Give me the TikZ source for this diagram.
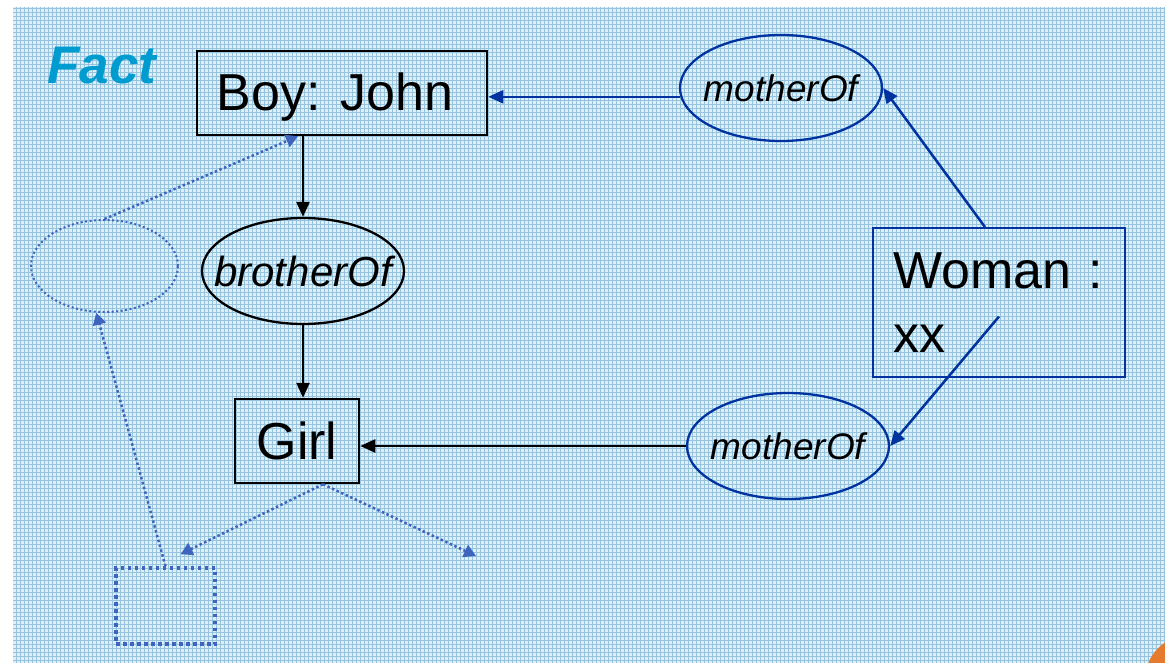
\documentclass[tikz,border=0pt]{standalone}
\usepackage{fontspec}
\setmainfont{Liberation Sans}
\usetikzlibrary{arrows.meta,shapes.geometric}

\definecolor{paperbg}{RGB}{224,238,246}
\definecolor{paperln}{RGB}{150,196,222}
\definecolor{linkblue}{RGB}{0,51,160}
\definecolor{dotblue}{RGB}{62,100,190}
\definecolor{facttxt}{RGB}{0,156,208}
\definecolor{cornerorange}{RGB}{232,122,46}

% zero-width label so the ellipse size is set only by its minimum size
\newcommand\rellabel[1]{\makebox[0pt]{#1}}

\begin{document}
\begin{tikzpicture}[x=1pt,y=-1pt,
  conceptbox/.style={draw=black,line width=2.5pt,rectangle,inner sep=0pt,
    font=\fontsize{52}{62}\selectfont},
  relnode/.style={ellipse,line width=2.3pt,inner sep=0pt,
    minimum width=202pt,minimum height=106pt,
    font=\itshape\fontsize{37}{44}\selectfont},
  blkarrow/.style={draw=black,line width=2.5pt,-{Triangle[length=15pt,width=13pt]}},
  bluarrow/.style={draw=linkblue,line width=2.5pt,-{Triangle[length=15pt,width=13pt]}},
  dotarrow/.style={draw=dotblue,line width=2.5pt,dash pattern=on 2.5pt off 2.5pt,
    -{Triangle[length=12pt,width=13pt,sep=0pt]}},
]
\useasboundingbox (0,0) rectangle (1165,663);

% graph-paper background
\fill[paperbg] (13,7) rectangle (1165,663);
\draw[paperln,line width=0.7pt,step=4pt] (13,7) grid (1165,663);

% corner decoration
\begin{scope}
  \clip (0,0) rectangle (1165,663);
  \fill[cornerorange] (1190,680) circle (45);
\end{scope}

% title
\node[text=facttxt,font=\bfseries\itshape\fontsize{53}{62}\selectfont] (fact) at (102,66) {Fact};

% concepts
\node[conceptbox,minimum width=290pt,minimum height=84pt] (boy) at (342,93)
  {\hspace*{-14pt}\raisebox{-4pt}[\height][\depth]{Boy: John}};
\node[conceptbox,minimum width=124pt,minimum height=84pt] (girl) at (297,441) {Girl};
\node[draw=linkblue,line width=1.8pt,rectangle,inner sep=0pt,
  minimum width=252pt,minimum height=149pt,text width=212pt,align=left,
  font=\fontsize{52}{64}\selectfont] (woman) at (999,302.5) {Woman :\\xx};

% relations
\node[relnode,draw=black,font=\itshape\fontsize{42}{50}\selectfont] (brother) at (303,271) {\rellabel{brotherOf}};
\node[relnode,draw=linkblue] (mtop) at (781,88) {\rellabel{motherOf}};
\node[relnode,draw=linkblue] (mbot) at (788,446) {\rellabel{motherOf}};

% dotted placeholders
\node[draw=dotblue,ellipse,line width=2pt,dash pattern=on 2pt off 2.5pt,
  minimum width=147pt,minimum height=92pt,inner sep=0pt] (dotell) at (104.5,266) {};
\node[draw=dotblue,rectangle,line width=3.5pt,dash pattern=on 3.5pt off 3.5pt,
  minimum width=99pt,minimum height=76pt,inner sep=0pt] (dotbox) at (165.5,606) {};
\coordinate (freetip) at (476,556);

% solid connectors
\draw[blkarrow] (boy.south -| brother.north) -- (brother.north);
\draw[blkarrow] (brother.south) -- (brother.south |- girl.north);
\draw[bluarrow] (mtop.185) -- (mtop.185 -| boy.east);
\draw[blkarrow] (mbot.west) -- (mbot.west -| girl.east);
\draw[bluarrow] ([xshift=-14pt]woman.north) -- (mtop.east);
\draw[bluarrow] ([yshift=-14pt]woman.center) -- (mbot.east);

% dotted connectors
\draw[dotarrow] (dotell.north) -- ([xshift=-44pt]boy.south);
\draw[dotarrow] (dotbox.north) -- (dotell.260);
\draw[dotarrow] ([xshift=26pt]girl.south) -- ([xshift=15pt,yshift=12pt]dotbox.north);
\draw[dotarrow] ([xshift=26pt]girl.south) -- (freetip);
\end{tikzpicture}
\end{document}
